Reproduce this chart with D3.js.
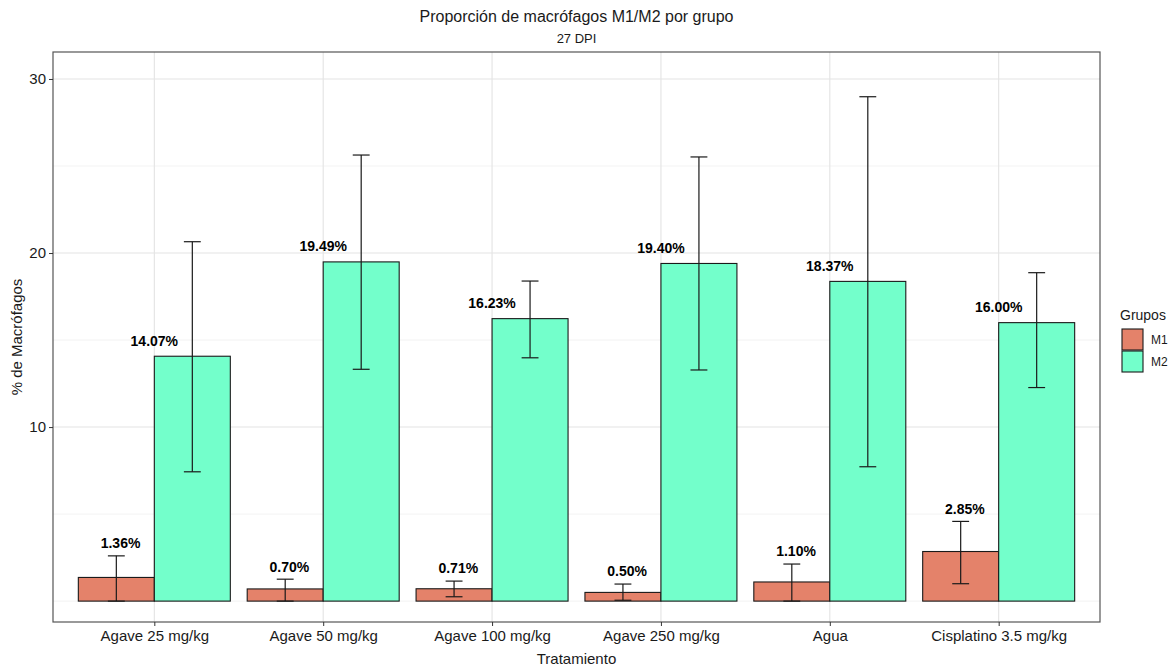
<!DOCTYPE html>
<html>
<head>
<meta charset="utf-8">
<script src="https://cdn.jsdelivr.net/npm/d3@7/dist/d3.min.js"></script>
<style>
  html, body { margin: 0; padding: 0; background: #fff; }
  svg { display: block; font-family: "Liberation Sans", Arial, Helvetica, sans-serif; }
</style>
</head>
<body>
<svg id="chart" width="1176" height="667"></svg>
<script>
// Treatments on the x axis
const categories = ["Agave 25 mg/kg", "Agave 50 mg/kg", "Agave 100 mg/kg", "Agave 250 mg/kg", "Agua", "Cisplatino 3.5 mg/kg"];
const groups = ["M1", "M2"];

// Mean percentage of macrophages per group
const m1Values = [1.36, 0.70, 0.71, 0.50, 1.10, 2.85];
const m2Values = [14.07, 19.49, 16.23, 19.40, 18.37, 16.00];

// Error bar limits (lower / upper)
const m1Lower = [0.00, 0.00, 0.25, 0.05, 0.00, 1.00];
const m1Upper = [2.60, 1.26, 1.15, 0.98, 2.13, 4.58];
const m2Lower = [7.43, 13.32, 13.98, 13.28, 7.72, 12.27];
const m2Upper = [20.65, 25.63, 18.39, 25.52, 28.98, 18.87];

const yTicks = [10, 20, 30];
const yMinor = [0, 5, 15, 25];

const colors = { M1: "#E4826A", M2: "#73FFCB" };

const svg = d3.select("#chart");
const panel = { left: 53, right: 1100, top: 52, bottom: 622 };

// Discrete x scale with ggplot-like 0.6 expansion on both ends
const x = d3.scalePoint()
  .domain(categories)
  .range([panel.left, panel.right])
  .padding(0.6);
const step = x.step();

const y = d3.scaleLinear()
  .domain([-1.2, 31.55])
  .range([panel.bottom, panel.top]);

// Rows for each bar
const rows = [];
categories.forEach((c, i) => {
  rows.push({ cat: c, group: "M1", value: m1Values[i], lo: m1Lower[i], hi: m1Upper[i] });
  rows.push({ cat: c, group: "M2", value: m2Values[i], lo: m2Lower[i], hi: m2Upper[i] });
});

const dodge = d3.scaleBand().domain(groups).range([-0.45 * step, 0.45 * step]).padding(0);

// Grid lines
const grid = svg.append("g");
grid.selectAll("line.minor").data(yMinor).join("line")
  .attr("x1", panel.left).attr("x2", panel.right)
  .attr("y1", d => y(d)).attr("y2", d => y(d))
  .attr("stroke", "#ebebeb").attr("stroke-width", 0.6);
grid.selectAll("line.major").data(yTicks).join("line")
  .attr("x1", panel.left).attr("x2", panel.right)
  .attr("y1", d => y(d)).attr("y2", d => y(d))
  .attr("stroke", "#e3e3e3").attr("stroke-width", 1.1);
grid.selectAll("line.vx").data(categories).join("line")
  .attr("x1", d => x(d)).attr("x2", d => x(d))
  .attr("y1", panel.top).attr("y2", panel.bottom)
  .attr("stroke", "#e3e3e3").attr("stroke-width", 1.1);

// Bars
svg.append("g").selectAll("rect").data(rows).join("rect")
  .attr("x", d => x(d.cat) + dodge(d.group))
  .attr("width", dodge.bandwidth())
  .attr("y", d => y(d.value))
  .attr("height", d => y(0) - y(d.value))
  .attr("fill", d => colors[d.group])
  .attr("stroke", "#1a1a1a")
  .attr("stroke-width", 1.1);

// Error bars
const eb = svg.append("g").attr("stroke", "#1a1a1a").attr("stroke-width", 1.2);
const cx = d => x(d.cat) + dodge(d.group) + dodge.bandwidth() / 2;
const cap = 0.05 * step;
eb.selectAll("line.v").data(rows).join("line")
  .attr("x1", cx).attr("x2", cx)
  .attr("y1", d => y(d.lo)).attr("y2", d => y(d.hi));
eb.selectAll("line.t").data(rows).join("line")
  .attr("x1", d => cx(d) - cap).attr("x2", d => cx(d) + cap)
  .attr("y1", d => y(d.hi)).attr("y2", d => y(d.hi));
eb.selectAll("line.b").data(rows).join("line")
  .attr("x1", d => cx(d) - cap).attr("x2", d => cx(d) + cap)
  .attr("y1", d => y(d.lo)).attr("y2", d => y(d.lo));

// Value labels
svg.append("g").selectAll("text").data(rows).join("text")
  .attr("x", d => d.group === "M1" ? x(d.cat) - 0.2 * step : x(d.cat))
  .attr("y", d => d.group === "M1" ? y(d.hi + 0.72) : y(d.value + 0.88))
  .attr("dy", "0.35em")
  .attr("text-anchor", "middle")
  .attr("font-size", 14)
  .attr("font-weight", "bold")
  .attr("fill", "#000")
  .text(d => d.value.toFixed(2) + "%");

// Panel border
svg.append("rect")
  .attr("x", panel.left).attr("y", panel.top)
  .attr("width", panel.right - panel.left).attr("height", panel.bottom - panel.top)
  .attr("fill", "none").attr("stroke", "#555").attr("stroke-width", 1.2);

// Axes
const yAxis = svg.append("g")
  .attr("transform", `translate(${panel.left},0)`)
  .call(d3.axisLeft(y).tickValues(yTicks).tickSize(4).tickPadding(3));
const xAxis = svg.append("g")
  .attr("transform", `translate(0,${panel.bottom})`)
  .call(d3.axisBottom(x).tickSize(4).tickPadding(4));
[yAxis, xAxis].forEach(a => {
  a.select(".domain").remove();
  a.selectAll(".tick line").attr("stroke", "#333");
  a.selectAll(".tick text").attr("fill", "#1a1a1a").attr("font-size", 15)
    .attr("font-family", "Liberation Sans, Arial, sans-serif");
});

// Titles
svg.append("text").attr("x", (panel.left + panel.right) / 2).attr("y", 22)
  .attr("text-anchor", "middle").attr("font-size", 16).attr("fill", "#1a1a1a")
  .text("Proporción de macrófagos M1/M2 por grupo");
svg.append("text").attr("x", (panel.left + panel.right) / 2).attr("y", 43)
  .attr("text-anchor", "middle").attr("font-size", 13).attr("fill", "#1a1a1a")
  .text("27 DPI");
svg.append("text").attr("x", (panel.left + panel.right) / 2).attr("y", 664)
  .attr("text-anchor", "middle").attr("font-size", 15).attr("fill", "#1a1a1a")
  .text("Tratamiento");
svg.append("text")
  .attr("transform", `translate(22,${(panel.top + panel.bottom) / 2}) rotate(-90)`)
  .attr("text-anchor", "middle").attr("font-size", 15).attr("fill", "#1a1a1a")
  .text("% de Macrófagos");

// Legend
const legend = svg.append("g").attr("transform", "translate(1120,0)");
legend.append("text").attr("x", 0).attr("y", 320).attr("font-size", 14).attr("fill", "#1a1a1a").text("Grupos");
groups.forEach((g, i) => {
  const ky = 329 + i * 22;
  legend.append("rect").attr("x", 2).attr("y", ky).attr("width", 21).attr("height", 21)
    .attr("fill", colors[g]).attr("stroke", "#1a1a1a").attr("stroke-width", 1.1);
  legend.append("text").attr("x", 31).attr("y", ky + 11).attr("dy", "0.35em")
    .attr("font-size", 12).attr("fill", "#1a1a1a").text(g);
});
</script>
</body>
</html>
